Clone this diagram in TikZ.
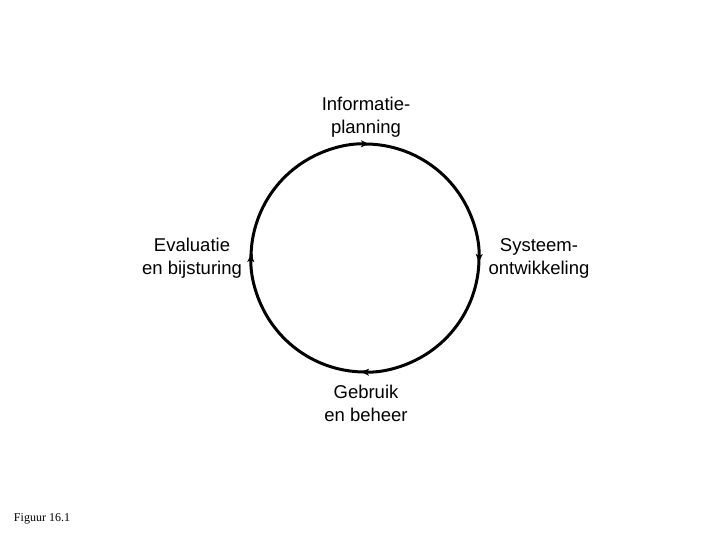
\documentclass[tikz,border=0pt]{standalone}
\usepackage{fontspec}
\setmainfont{Liberation Sans}
\newfontfamily\figfont{Liberation Serif}
\usetikzlibrary{arrows.meta}

\begin{document}
\begin{tikzpicture}[x=1pt,y=1pt,
  cyclearc/.style={line width=3pt,-{Stealth[length=8pt,width=7pt,inset=2pt]}},
  phase/.style={align=center,font=\fontsize{18.5}{23}\selectfont,inner sep=0pt}]
\useasboundingbox (0,0) rectangle (720,540);
% the four points of the cycle
\coordinate (top) at (365,396);
\coordinate (rgt) at (479,282);
\coordinate (bot) at (365,168);
\coordinate (lft) at (251,282);
% cycle, clockwise
\draw[cyclearc] (lft) arc[start angle=180,end angle=88,radius=114];
\draw[cyclearc] (top) arc[start angle=90,end angle=-2,radius=114];
\draw[cyclearc] (rgt) arc[start angle=0,end angle=-92,radius=114];
\draw[cyclearc] (bot) arc[start angle=-90,end angle=-182,radius=114];
\draw[line width=3pt] (lft) arc[start angle=180,end angle=178,radius=114];
% labels
\node[phase] (plan) at (366,423) {Informatie-\\planning};
\node[phase] (sys) at (539,282) {Systeem-\\ontwikkeling};
\node[phase] (use) at (366,137) {Gebruik\\en beheer};
\node[phase] (eval) at (192,282) {Evaluatie\\en bijsturing};
\node[font=\figfont\fontsize{12}{14}\selectfont,inner sep=0pt] (cap) at (42,21) {Figuur 16.1};
\end{tikzpicture}
\end{document}
